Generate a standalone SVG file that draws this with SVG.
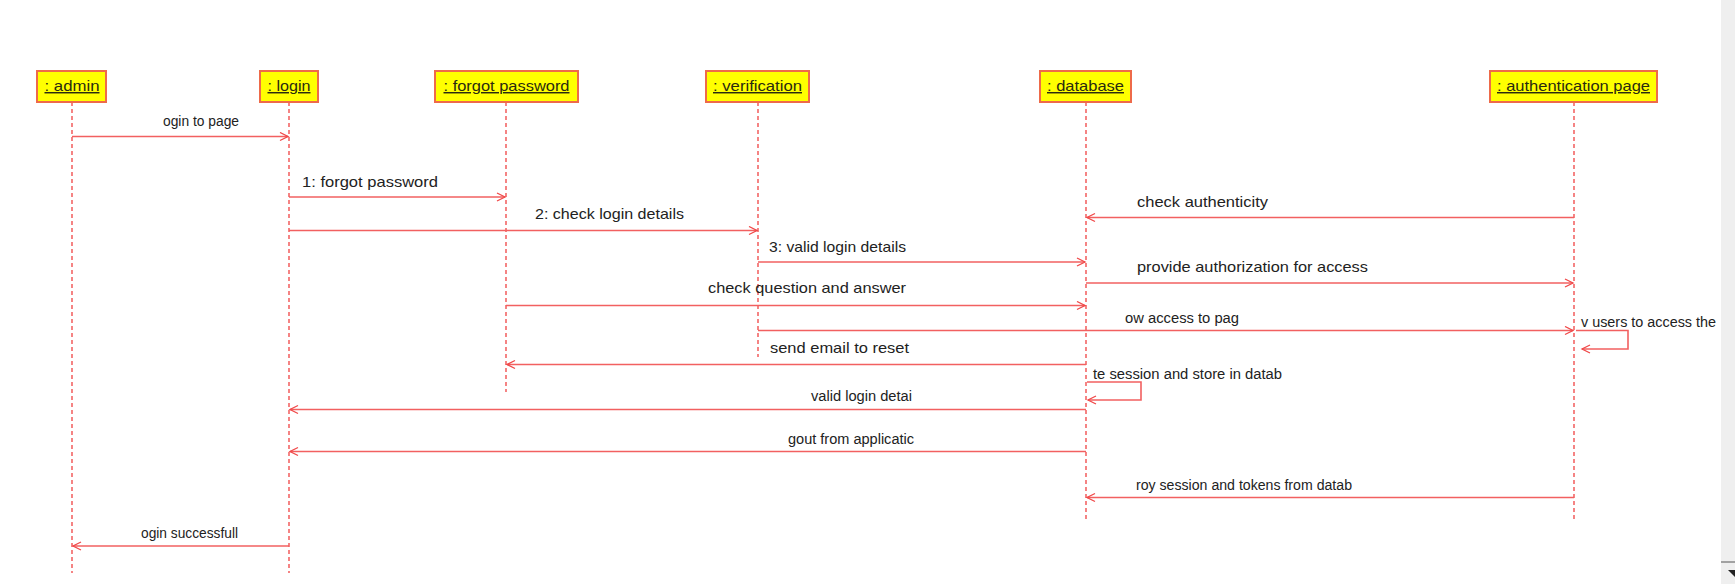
<svg xmlns="http://www.w3.org/2000/svg" width="1735" height="584" viewBox="0 0 1735 584">
<defs>
<style>
.box{fill:#ffff00;stroke:#ee6a4a;stroke-width:2}
.bl{font-family:"Liberation Sans",Arial,sans-serif;font-size:14.5px;fill:#2a2a10;text-anchor:middle;text-decoration:underline}
.life{stroke:#ee3333;stroke-width:1.2;stroke-dasharray:4 3;fill:none}
.msg{stroke:#f26060;stroke-width:1.6;fill:none}
.t{font-family:"Liberation Sans",Arial,sans-serif;font-size:14.5px;fill:#222}
.s{font-family:"Liberation Sans",Arial,sans-serif;font-size:14px;fill:#222}
</style>
<marker id="ah" markerUnits="userSpaceOnUse" markerWidth="12" markerHeight="12" refX="9" refY="5" orient="auto">
<path d="M1,1 L9,5 L1,9" fill="none" stroke="#f04848" stroke-width="1.3"/>
</marker>
</defs>
<rect x="0" y="0" width="1735" height="584" fill="#ffffff"/>
<rect x="1721" y="0" width="14" height="584" fill="#efefef"/>
<line x1="1721" y1="562" x2="1735" y2="562" stroke="#888" stroke-width="1.5"/>
<polygon points="1728,570 1735,570 1735,577" fill="#222"/>

<g id="lifelines">
<line class="life" x1="72" y1="102" x2="72" y2="573"/>
<line class="life" x1="289" y1="102" x2="289" y2="573"/>
<line class="life" x1="506" y1="102" x2="506" y2="392"/>
<line class="life" x1="758" y1="102" x2="758" y2="357"/>
<line class="life" x1="1086" y1="102" x2="1086" y2="522"/>
<line class="life" x1="1574" y1="102" x2="1574" y2="522"/>
</g>

<g id="admin"><rect class="box" x="37" y="71" width="69" height="31"/><text class="bl" x="72" y="91" textLength="55" lengthAdjust="spacingAndGlyphs">: admin</text></g>
<g id="login"><rect class="box" x="260" y="71" width="58" height="31"/><text class="bl" x="289" y="91" textLength="43" lengthAdjust="spacingAndGlyphs">: login</text></g>
<g id="forgot-password"><rect class="box" x="435" y="71" width="143" height="31"/><text class="bl" x="506.5" y="91" textLength="126" lengthAdjust="spacingAndGlyphs">: forgot password</text></g>
<g id="verification"><rect class="box" x="706" y="71" width="103" height="31"/><text class="bl" x="757.5" y="91" textLength="89" lengthAdjust="spacingAndGlyphs">: verification</text></g>
<g id="database"><rect class="box" x="1040" y="71" width="91" height="31"/><text class="bl" x="1085.5" y="91" textLength="77" lengthAdjust="spacingAndGlyphs">: database</text></g>
<g id="authentication-page"><rect class="box" x="1490" y="71" width="167" height="31"/><text class="bl" x="1573.5" y="91" textLength="153" lengthAdjust="spacingAndGlyphs">: authentication page</text></g>

<g id="connectors">
<line class="msg" x1="72" y1="136.5" x2="288" y2="136.5" marker-end="url(#ah)"/>
<line class="msg" x1="289" y1="197" x2="505" y2="197" marker-end="url(#ah)"/>
<line class="msg" x1="289" y1="230.5" x2="757" y2="230.5" marker-end="url(#ah)"/>
<line class="msg" x1="1574" y1="217.5" x2="1087" y2="217.5" marker-end="url(#ah)"/>
<line class="msg" x1="758" y1="262" x2="1085" y2="262" marker-end="url(#ah)"/>
<line class="msg" x1="1086" y1="283" x2="1573" y2="283" marker-end="url(#ah)"/>
<line class="msg" x1="506" y1="305.5" x2="1085" y2="305.5" marker-end="url(#ah)"/>
<line class="msg" x1="758" y1="330.5" x2="1573" y2="330.5" marker-end="url(#ah)"/>
<path class="msg" d="M1576,330.5 H1628 V349 H1582" marker-end="url(#ah)"/>
<line class="msg" x1="1086" y1="364.5" x2="507" y2="364.5" marker-end="url(#ah)"/>
<path class="msg" d="M1087,382 H1141 V400 H1088" marker-end="url(#ah)"/>
<line class="msg" x1="1086" y1="409.5" x2="290" y2="409.5" marker-end="url(#ah)"/>
<line class="msg" x1="1086" y1="451.5" x2="290" y2="451.5" marker-end="url(#ah)"/>
<line class="msg" x1="1574" y1="497.5" x2="1087" y2="497.5" marker-end="url(#ah)"/>
<line class="msg" x1="289" y1="546" x2="73" y2="546" marker-end="url(#ah)"/>
</g>

<g id="labels">
<text class="s" x="163" y="126" textLength="76" lengthAdjust="spacingAndGlyphs">ogin to page</text>
<text class="t" x="302" y="186.5" textLength="136" lengthAdjust="spacingAndGlyphs">1: forgot password</text>
<text class="t" x="535" y="218.5" textLength="149" lengthAdjust="spacingAndGlyphs">2: check login details</text>
<text class="t" x="1137" y="207" textLength="131" lengthAdjust="spacingAndGlyphs">check authenticity</text>
<text class="t" x="769" y="251.5" textLength="137" lengthAdjust="spacingAndGlyphs">3: valid login details</text>
<text class="t" x="1137" y="271.5" textLength="231" lengthAdjust="spacingAndGlyphs">provide authorization for access</text>
<text class="t" x="708" y="293" textLength="198" lengthAdjust="spacingAndGlyphs">check question and answer</text>
<text class="s" x="1125" y="322.5" textLength="114" lengthAdjust="spacingAndGlyphs">ow access to pag</text>
<text class="s" x="1581" y="327" textLength="135" lengthAdjust="spacingAndGlyphs">v users to access the</text>
<text class="t" x="770" y="353" textLength="139" lengthAdjust="spacingAndGlyphs">send email to reset</text>
<text class="s" x="1093" y="378.5" textLength="189" lengthAdjust="spacingAndGlyphs">te session and store in datab</text>
<text class="s" x="811" y="401" textLength="101" lengthAdjust="spacingAndGlyphs">valid login detai</text>
<text class="s" x="788" y="444" textLength="126" lengthAdjust="spacingAndGlyphs">gout from applicatic</text>
<text class="s" x="1136" y="489.5" textLength="216" lengthAdjust="spacingAndGlyphs">roy session and tokens from datab</text>
<text class="s" x="141" y="538" textLength="97" lengthAdjust="spacingAndGlyphs">ogin successfull</text>
</g>
</svg>
